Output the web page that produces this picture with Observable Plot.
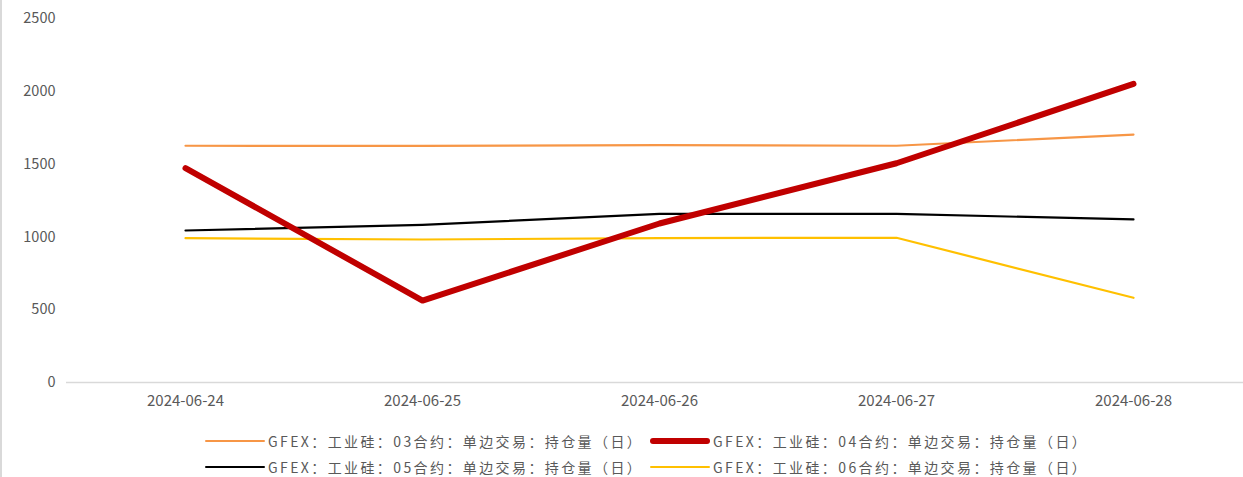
<!DOCTYPE html>
<html>
<head>
<meta charset="utf-8">
<script src="https://cdn.jsdelivr.net/npm/d3@7"></script>
<script src="https://cdn.jsdelivr.net/npm/@observablehq/plot@0.6"></script>
<style>
  html, body { margin: 0; padding: 0; background: #fff; }
  #wrap { position: relative; width: 1243px; height: 477px; box-sizing: border-box; border-left: 2px solid #d9d9d9; overflow: hidden; }
  #chart { position: absolute; left: -2px; top: 0; }
  .legend { position: absolute; left: 0; top: 0; width: 1243px; font-family: "Noto Sans CJK SC", sans-serif; font-size: 14px; color: #595959; letter-spacing: 2.4px; }
  .item { position: absolute; display: flex; align-items: center; white-space: nowrap; height: 20px; }
  .sw { width: 60px; margin-right: 3px; border-radius: 3px; }
</style>
</head>
<body>
<div id="wrap"><div id="chart"></div><div class="legend" id="legend"></div></div>
<script>
const dates = ["2024-06-24", "2024-06-25", "2024-06-26", "2024-06-27", "2024-06-28"];
const seriesNames = [
  "GFEX：工业硅：03合约：单边交易：持仓量（日）",
  "GFEX：工业硅：04合约：单边交易：持仓量（日）",
  "GFEX：工业硅：05合约：单边交易：持仓量（日）",
  "GFEX：工业硅：06合约：单边交易：持仓量（日）"
];
const c03 = [1626, 1625, 1630, 1626, 1703];
const c04 = [1472, 563, 1092, 1506, 2051];
const c05 = [1044, 1083, 1158, 1158, 1120];
const c06 = [991, 982, 992, 994, 582];
const yTicks = [0, 500, 1000, 1500, 2000, 2500];
const colors = ["#F79646", "#C00000", "#000000", "#FFC000"];
const widths = [2.2, 6, 2.2, 2.2];

const allValues = [c03, c04, c05, c06];
const data = [];
allValues.forEach((vals, s) => vals.forEach((v, i) => data.push({date: dates[i], value: v, series: seriesNames[s]})));

const drawOrder = [0, 2, 3, 1];

const chart = Plot.plot({
  width: 1243,
  height: 410,
  marginLeft: 66,
  marginRight: 0,
  marginTop: 18,
  marginBottom: 28,
  style: {fontFamily: "'Noto Sans CJK SC', Roboto, sans-serif", fontSize: "14px", color: "#595959", background: "transparent"},
  x: {type: "point", domain: dates, range: [185, 1133], padding: 0, label: null},
  y: {domain: [0, 2500], ticks: yTicks, label: null},
  marks: [
    Plot.ruleY([0], {stroke: "#d9d9d9", strokeWidth: 1.5}),
    Plot.axisY({ticks: yTicks, tickSize: 0, tickPadding: 11, tickFormat: d => String(d), label: null, fill: "#595959", fontSize: 14.5}),
    Plot.axisX({tickSize: 0, tickPadding: 13, tickFormat: d => d, label: null, fill: "#595959", fontSize: 15, style: {letterSpacing: "1.1px"}}),
    ...drawOrder.map(s => Plot.lineY(data.filter(d => d.series === seriesNames[s]), {
      x: "date", y: "value", stroke: colors[s], strokeWidth: widths[s], strokeLinecap: "round", strokeLinejoin: "round"
    }))
  ]
});
document.getElementById("chart").appendChild(chart);

const legend = document.getElementById("legend");
const pos = [[203, 431], [648, 431], [203, 457], [648, 457]];
seriesNames.forEach((name, s) => {
  const it = document.createElement("div");
  it.className = "item";
  it.style.left = pos[s][0] + "px";
  it.style.top = pos[s][1] + "px";
  const sw = document.createElement("span");
  sw.className = "sw";
  sw.style.height = widths[s] + "px";
  sw.style.background = colors[s];
  const tx = document.createElement("span");
  tx.textContent = name;
  it.appendChild(sw); it.appendChild(tx);
  legend.appendChild(it);
});
</script>
</body>
</html>
